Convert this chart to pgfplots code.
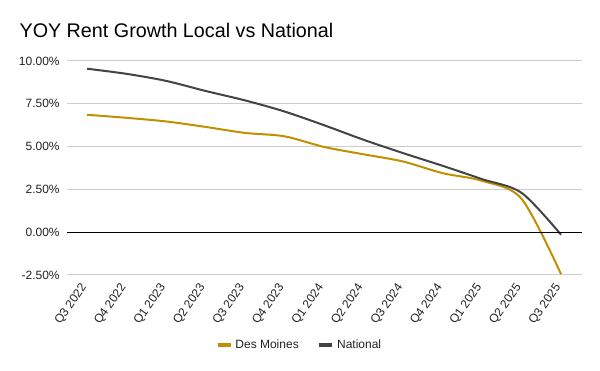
\documentclass[border=0pt]{standalone}
\usepackage{fontspec}
\setmainfont{Liberation Sans}
\usepackage{pgfplots}
\pgfplotsset{compat=1.18}
\definecolor{dm}{HTML}{BF9000}
\definecolor{nat}{HTML}{434343}
\definecolor{gridc}{HTML}{CCCCCC}
\definecolor{lbl}{HTML}{222222}
\begin{document}
\begin{tikzpicture}
\path[use as bounding box] (0,0) rectangle (450pt,278.25pt);
\node[anchor=base west, inner sep=0pt, font=\fontsize{14.8pt}{17pt}\selectfont, text=black] at (14.5pt,249.75pt) {YOY Rent Growth Local vs National};
\begin{axis}[
  at={(50.25pt,72pt)}, anchor=south west,
  scale only axis, width=386.25pt, height=160.5pt,
  xmin=-0.506, xmax=12.53, ymin=-2.5, ymax=10,
  axis line style={draw=none},
  major tick length=0pt,
  ytick={-2.5,0,2.5,5,7.5,10},
  yticklabels={-2.50\%,0.00\%,2.50\%,5.00\%,7.50\%,10.00\%},
  xtick={0,...,12},
  xticklabels={Q3 2022,Q4 2022,Q1 2023,Q2 2023,Q3 2023,Q4 2023,Q1 2024,Q2 2024,Q3 2024,Q4 2024,Q1 2025,Q2 2025,Q3 2025},
  ymajorgrids, grid style={gridc, line width=0.75pt},
  tick label style={font=\fontsize{9pt}{10pt}\selectfont, text=lbl},
  xticklabel style={rotate=55, anchor=east},
  xticklabel shift=5pt,
  yticklabel shift=2pt,
  clip=false,
  legend columns=2,
  legend style={at={(0.452,-0.327)}, anchor=center, draw=none, fill=none,
    font=\fontsize{9pt}{10pt}\selectfont, text=lbl,
    /tikz/every even column/.append style={column sep=12pt}},
  legend image code/.code={\draw[line width=3pt,#1] (0pt,0pt) -- (9.75pt,0pt);},
]
\addplot[color=dm, line width=1.5pt, smooth] coordinates {
 (0,6.86) (1,6.68) (2,6.47) (3,6.15) (4,5.80) (5,5.60) (6,4.98) (7,4.55) (8,4.13) (9,3.45) (10,3.00) (11,1.95) (12,-2.45)};
\addlegendentry{Des Moines}
\addplot[color=nat, line width=1.5pt, smooth] coordinates {
 (0,9.55) (1,9.25) (2,8.84) (3,8.25) (4,7.70) (5,7.05) (6,6.25) (7,5.40) (8,4.62) (9,3.88) (10,3.10) (11,2.30) (12,-0.15)};
\addlegendentry{National}
\draw[black, line width=0.9pt] (axis cs:-0.506,0) -- (axis cs:12.53,0);
\end{axis}
\end{tikzpicture}
\end{document}
